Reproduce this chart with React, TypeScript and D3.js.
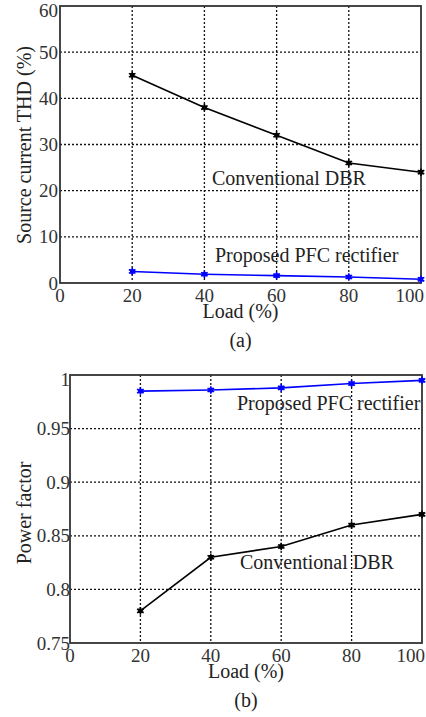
import * as d3 from "d3";

const loads = [20, 40, 60, 80, 100];
const thdDbr = [45, 38, 32, 26, 24];
const thdPfc = [2.5, 1.9, 1.6, 1.3, 0.8];
const pfPfc = [0.985, 0.986, 0.988, 0.992, 0.995];
const pfDbr = [0.78, 0.83, 0.84, 0.86, 0.87];

const xTicks = [0, 20, 40, 60, 80, 100];
const thdTicks = [0, 10, 20, 30, 40, 50, 60];
const pfTicks = [0.75, 0.8, 0.85, 0.9, 0.95, 1];

const font = "Liberation Serif, Times New Roman, serif";

type Series = { values: number[]; color: string };
type Note = { text: string; x: number; y: number };

type PanelProps = {
  left: number;
  top: number;
  right: number;
  bottom: number;
  yDomain: [number, number];
  yTicks: number[];
  yFormat: (v: number) => string;
  yTickX: number;
  yLabel: string;
  yLabelX: number;
  yLabelY: number;
  series: Series[];
  notes: Note[];
  caption: string;
};

const Panel = (p: PanelProps) => {
  const x = d3.scaleLinear().domain([0, 100]).range([p.left, p.right]);
  const y = d3.scaleLinear().domain(p.yDomain).range([p.bottom, p.top]);
  const line = d3
    .line<number>()
    .x((_, i) => x(loads[i]))
    .y((d) => y(d));
  const star = d3.symbol(d3.symbolAsterisk, 40)();
  const sq = d3.symbol(d3.symbolSquare, 20)();
  const midX = (p.left + p.right) / 2;

  return (
    <g style={{ fontFamily: font }}>
      {/* grid */}
      {xTicks.slice(1, -1).map((t) => (
        <line key={"gx" + t} x1={x(t)} x2={x(t)} y1={p.top} y2={p.bottom}
          stroke="#111" strokeWidth={1.3} strokeDasharray="2,2" />
      ))}
      {p.yTicks.slice(1, -1).map((t) => (
        <line key={"gy" + t} x1={p.left} x2={p.right} y1={y(t)} y2={y(t)}
          stroke="#111" strokeWidth={1.3} strokeDasharray="2,2" />
      ))}
      {/* frame */}
      <rect x={p.left} y={p.top} width={p.right - p.left} height={p.bottom - p.top}
        fill="none" stroke="#333" strokeWidth={1.8} />
      {/* series */}
      {p.series.map((s, si) => (
        <g key={si}>
          <path d={line(s.values) ?? ""} fill="none" stroke={s.color} strokeWidth={1.6} />
          {s.values.map((v, i) => (
            <g key={i} transform={`translate(${x(loads[i])},${y(v)})`}>
              <path d={star} fill="none" stroke={s.color} strokeWidth={1.6} />
              <path d={sq} fill={s.color} />
            </g>
          ))}
        </g>
      ))}
      {/* tick labels */}
      {xTicks.map((t, i) => {
        const last = i === xTicks.length - 1;
        return (
          <text key={"tx" + t} x={last ? p.right + 3 : x(t)} y={p.bottom + 19}
            textAnchor={last ? "end" : "middle"} fontSize={19} fill="#333">{t}</text>
        );
      })}
      {p.yTicks.map((t) => (
        <text key={"ty" + t} x={p.yTickX} y={Math.max(y(t), p.top + 4)} dy="0.35em" textAnchor="end"
          fontSize={19} fill="#333">{p.yFormat(t)}</text>
      ))}
      <text x={midX} y={p.bottom + 35} textAnchor="middle" fontSize={20} fill="#222">Load (%)</text>
      <text x={midX} y={p.bottom + 64} textAnchor="middle" fontSize={20} fill="#222">{p.caption}</text>
      <text transform={`translate(${p.yLabelX},${p.yLabelY}) rotate(-90)`}
        textAnchor="middle" fontSize={20} fill="#222">{p.yLabel}</text>
      {p.notes.map((n) => (
        <text key={n.text} x={n.x} y={n.y} fontSize={20} fill="#222">{n.text}</text>
      ))}
    </g>
  );
};

const App = () => {
  return (
    <svg width={426} height={717} style={{ position: "absolute", left: 0, top: 0, background: "#fff" }}>
      <Panel left={60} top={6} right={421} bottom={283} yDomain={[0, 60]} yTicks={thdTicks}
        yFormat={(v) => String(v)} yTickX={58} yLabel="Source current THD (%)" yLabelX={31} yLabelY={145}
        series={[{ values: thdDbr, color: "#000" }, { values: thdPfc, color: "#0000ff" }]}
        notes={[{ text: "Conventional DBR", x: 212, y: 185 }, { text: "Proposed PFC rectifier", x: 215, y: 262 }]}
        caption="(a)" />
      <Panel left={70} top={375} right={422} bottom={643} yDomain={[0.75, 1]} yTicks={pfTicks}
        yFormat={(v) => String(+v.toFixed(2))} yTickX={70} yLabel="Power factor" yLabelX={31} yLabelY={513}
        series={[{ values: pfPfc, color: "#0000ff" }, { values: pfDbr, color: "#000" }]}
        notes={[{ text: "Proposed PFC rectifier", x: 237, y: 410 }, { text: "Conventional DBR", x: 240, y: 569 }]}
        caption="(b)" />
    </svg>
  );
};

export default App;
